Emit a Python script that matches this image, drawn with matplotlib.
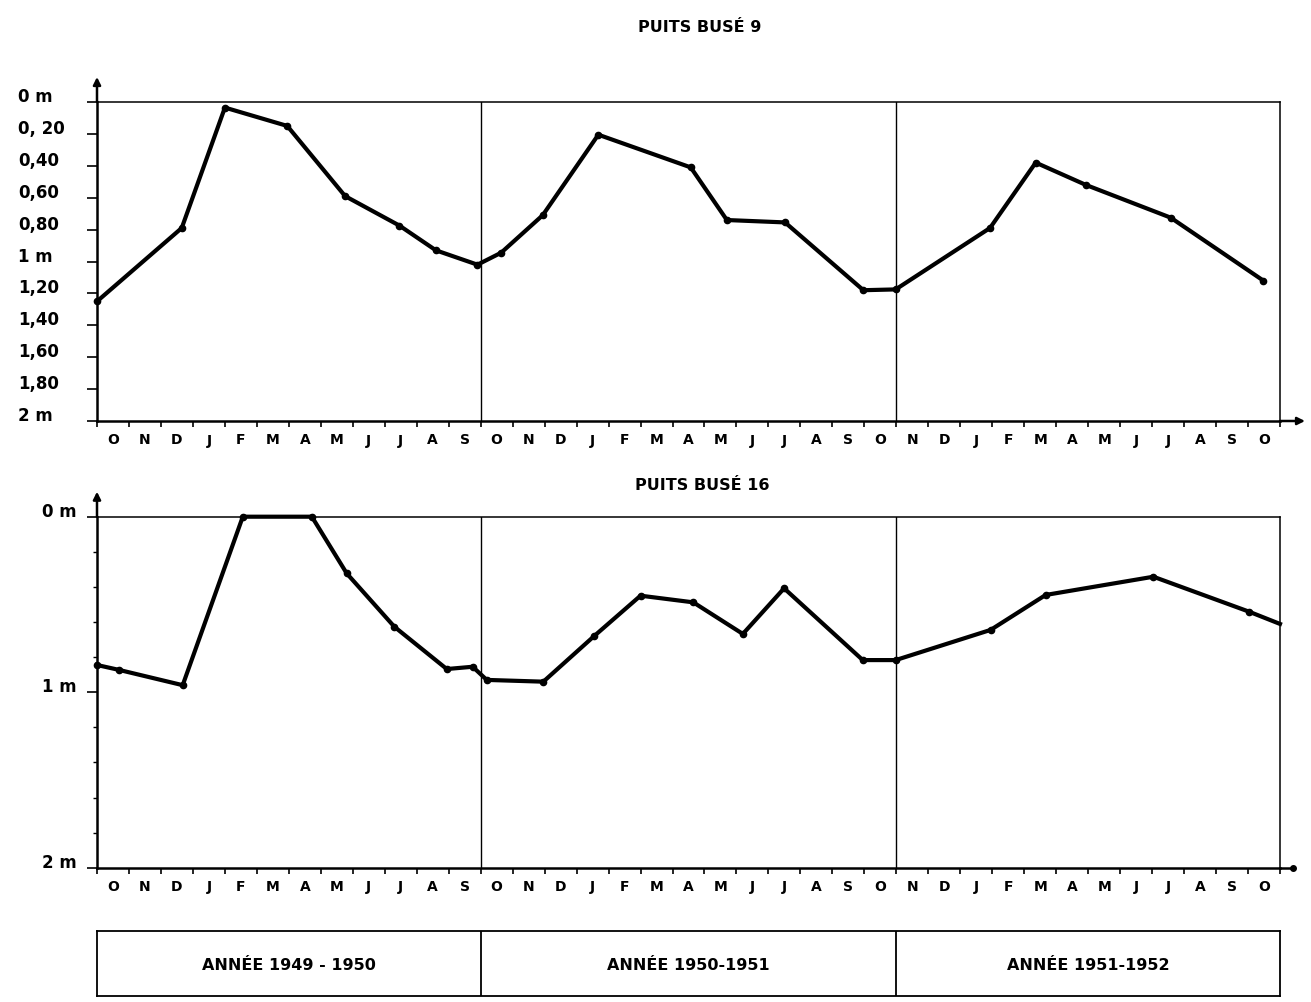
import matplotlib
matplotlib.use("Agg")
import matplotlib.pyplot as plt
import matplotlib.transforms as mtransforms
import numpy as np

plt.rcParams['font.family'] = ['DejaVu Sans']
plt.rcParams['font.weight'] = 'bold'

# ---------------- data ----------------
# x = months elapsed since 1 October 1949
month_labels = list("ONDJFMAMJJAS") + list("ONDJFMAMJJASO") + list("NDJFMAMJJASO")
year_breaks = [12, 25]
n_months = 37
year_labels = ["ANNÉE 1949 - 1950", "ANNÉE 1950-1951", "ANNÉE 1951-1952"]

# PUITS BUSÉ 9 : depth of water level below ground (m)
p9_month = [0.0, 2.65, 4.0, 5.95, 7.76, 9.46, 10.6, 11.9, 12.64, 13.94, 15.68,
            18.57, 19.7, 21.52, 23.97, 24.98, 27.93, 29.36, 30.93, 33.58, 36.48]
p9_depth = [1.25, 0.79, 0.035, 0.15, 0.59, 0.775, 0.93, 1.02, 0.945, 0.71, 0.205,
            0.41, 0.74, 0.755, 1.18, 1.175, 0.79, 0.38, 0.52, 0.725, 1.12]

# PUITS BUSÉ 16
p16_month = [0.0, 0.69, 2.68, 4.56, 6.72, 7.81, 9.3, 10.94, 11.75, 12.19, 13.96,
             15.55, 17.0, 18.65, 20.2, 21.49, 23.95, 24.98, 27.95, 29.67, 33.04,
             36.03, 37.0]
p16_depth = [0.845, 0.873, 0.96, 0.0, 0.0, 0.323, 0.627, 0.868, 0.855, 0.93, 0.94,
             0.68, 0.45, 0.488, 0.668, 0.408, 0.817, 0.817, 0.645, 0.446, 0.342,
             0.541, 0.611]

p9_ticks = [0, 0.2, 0.4, 0.6, 0.8, 1.0, 1.2, 1.4, 1.6, 1.8, 2.0]
p9_ticklabels = ["0 m", "0, 20", "0,40", "0,60", "0,80", "1 m", "1,20", "1,40",
                 "1,60", "1,80", "2 m"]
p16_ticks = [0, 1, 2]
p16_ticklabels = ["0 m", "1 m", "2 m"]

# ---------------- figure ----------------
W, H = 1311, 1002
fig = plt.figure(figsize=(W / 100, H / 100), dpi=100)
fig.patch.set_facecolor('white')


def fx(px):
    return px / W


def fy(py):
    return 1 - py / H


L, R = 97, 1280
ax1 = fig.add_axes([fx(L), fy(421), fx(R - L), (421 - 102) / H])
ax2 = fig.add_axes([fx(L), fy(867.7), fx(R - L), (867.7 - 516.7) / H])
ax3 = fig.add_axes([fx(L), fy(996), fx(R - L), (996 - 931) / H])


def style_panel(ax, ticks, labels, minor_step, lbl_x, arrow_frac, xend_frac, dot_end):
    ax.set_xlim(0, n_months)
    ax.set_ylim(2, 0)
    for s in ['top', 'right']:
        ax.spines[s].set_linewidth(1.1)
    for s in ['left', 'bottom']:
        ax.spines[s].set_linewidth(1.8)
    for b in year_breaks:
        ax.axvline(b, color='black', lw=1.0, zorder=1)
    # x ticks
    ax.set_xticks(np.arange(0, n_months + 1))
    ax.set_xticklabels([])
    ax.tick_params(axis='x', which='major', direction='out', length=4, width=1.2)
    ax.set_xticks(np.arange(n_months) + 0.5, minor=True)
    ax.set_xticklabels(month_labels, minor=True, fontsize=10, fontweight='bold')
    ax.tick_params(axis='x', which='minor', length=0, pad=9)
    # y ticks
    ax.set_yticks(ticks)
    ax.set_yticklabels([])
    ax.tick_params(axis='y', which='major', direction='out', length=7, width=1.2)
    if minor_step:
        ax.set_yticks(np.arange(0, 2.0001, minor_step), minor=True)
        ax.tick_params(axis='y', which='minor', direction='out', length=3, width=1.0)
    trans = mtransforms.blended_transform_factory(fig.transFigure, ax.transData)
    trans = mtransforms.offset_copy(trans, fig=fig, y=5, units='dots')
    for t, lab in zip(ticks, labels):
        ax.text(fx(lbl_x), t, lab, transform=trans, ha='left', va='center',
                fontsize=12, fontweight='bold')
    # axis arrows
    ax.annotate('', xy=(0, 1 + arrow_frac), xycoords='axes fraction',
                xytext=(0, 1), textcoords='axes fraction',
                arrowprops=dict(arrowstyle='-|>', lw=1.8, color='black',
                                mutation_scale=11, shrinkA=0, shrinkB=0))
    if dot_end:
        ax.plot([1, xend_frac], [0, 0], transform=ax.transAxes, color='black',
                lw=1.8, clip_on=False)
        ax.plot([xend_frac], [0], 'o', transform=ax.transAxes, color='black',
                ms=4, clip_on=False)
    else:
        ax.annotate('', xy=(xend_frac, 0), xycoords='axes fraction',
                    xytext=(1, 0), textcoords='axes fraction',
                    arrowprops=dict(arrowstyle='-|>', lw=1.8, color='black',
                                    mutation_scale=11, shrinkA=0, shrinkB=0))


style_panel(ax1, p9_ticks, p9_ticklabels, None, 18, 25 / 319, 1305 / 1183 - 97 / 1183 + 0.0, False)
style_panel(ax2, p16_ticks, p16_ticklabels, 0.2, 42, 25 / 351, (1293 - 97) / 1183, True)

ax1.plot(p9_month, p9_depth, color='black', lw=3.0, marker='o', ms=4.5,
         clip_on=False, zorder=3)
ax2.plot(p16_month, p16_depth, color='black', lw=3.0, marker='o', ms=4.5,
         markevery=list(range(len(p16_month) - 1)), clip_on=False, zorder=3)

fig.text(fx(700), fy(28), "PUITS BUSÉ 9", ha='center', va='center',
         fontsize=11.5, fontweight='bold')
fig.text(fx(702), fy(486), "PUITS BUSÉ 16", ha='center', va='center',
         fontsize=11.5, fontweight='bold')

# year boxes
ax3.set_xlim(0, n_months)
ax3.set_ylim(0, 1)
ax3.set_xticks([])
ax3.set_yticks([])
for s in ax3.spines.values():
    s.set_linewidth(1.3)
for b in year_breaks:
    ax3.axvline(b, color='black', lw=1.3)
bounds = [0] + year_breaks + [n_months]
for i, lab in enumerate(year_labels):
    ax3.text((bounds[i] + bounds[i + 1]) / 2, 0.47, lab, ha='center', va='center',
             fontsize=11.5, fontweight='bold')

fig.savefig("out.png", dpi=100, facecolor='white')
